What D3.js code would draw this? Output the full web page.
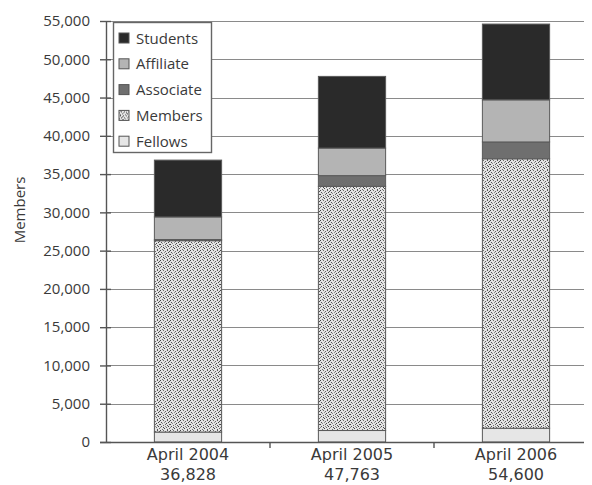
<!DOCTYPE html>
<html>
<head>
<meta charset="utf-8">
<script src="https://cdn.jsdelivr.net/npm/d3@7"></script>
<style>
  html, body { margin: 0; padding: 0; background: #fff; }
  svg { display: block; font-family: "Open Sans", "Noto Sans", sans-serif; }
</style>
</head>
<body>
<svg id="chart" width="592" height="485"></svg>
<script>
// Membership by grade, April of each year
const categories = ["April 2004", "April 2005", "April 2006"];
const totalLabels = ["36,828", "47,763", "54,600"];
const seriesNames = ["Fellows", "Members", "Associate", "Affiliate", "Students"];
const fellows   = [1300, 1500, 1800];
const members   = [25000, 31900, 35200];
const associate = [150, 1400, 2200];
const affiliate = [2950, 3600, 5500];
const students  = [7428, 9363, 9900];
const yTicks = [0, 5000, 10000, 15000, 20000, 25000, 30000, 35000, 40000, 45000, 50000, 55000];
const legendOrder = ["Students", "Affiliate", "Associate", "Members", "Fellows"];

const seriesValues = { Fellows: fellows, Members: members, Associate: associate, Affiliate: affiliate, Students: students };
const rows = categories.map((c, i) => {
  const r = { category: c };
  seriesNames.forEach(s => { r[s] = seriesValues[s][i]; });
  return r;
});

const svg = d3.select("#chart");
const defs = svg.append("defs");

// stipple fill for the Members segment: a 10x10 tile of scattered dots
const dotRows = [
  [0, 3, 7], [5, 9], [1, 4, 8], [2, 6], [0, 5, 9],
  [3, 7], [1, 5, 8], [0, 3, 6], [4, 9], [2, 7]
];
const dotShades = ["#444", "#6a6a6a", "#555", "#8a8a8a"];
const dots = [];
dotRows.forEach((xs, yy) => xs.forEach((xx, k) => dots.push([xx, yy, dotShades[(yy + k) % 4]])));
const pat = defs.append("pattern")
  .attr("id", "stipple").attr("patternUnits", "userSpaceOnUse")
  .attr("width", 10).attr("height", 10);
pat.append("rect").attr("width", 10).attr("height", 10).attr("fill", "#e4e4e4");
pat.selectAll(".d").data(dots).join("rect").attr("class", "d")
  .attr("x", d => d[0]).attr("y", d => d[1]).attr("width", 1).attr("height", 1)
  .attr("fill", d => d[2]);

const fills = {
  Fellows: "#e6e6e6",
  Members: "url(#stipple)",
  Associate: "#6f6f6f",
  Affiliate: "#b4b4b4",
  Students: "#2a2a2a"
};

const axisX = 106, axisY = 442, rightEdge = 584;

const x = d3.scaleBand().domain(categories).range([axisX, axisX + 492])
  .paddingInner(0.59).paddingOuter(0.295);
const y = d3.scaleLinear().domain([0, 55000]).range([axisY, 21]);

// horizontal grid lines
svg.append("g").selectAll("line").data(yTicks.filter(d => d > 0)).join("line")
  .attr("x1", axisX).attr("x2", rightEdge)
  .attr("y1", d => Math.round(y(d)) + 0.5).attr("y2", d => Math.round(y(d)) + 0.5)
  .attr("stroke", "#8a8a8a").attr("stroke-width", 1.2);

// stacked bars
const stack = d3.stack().keys(seriesNames)(rows);
svg.append("g").selectAll("g").data(stack).join("g")
  .attr("fill", d => fills[d.key])
  .selectAll("rect").data(d => d).join("rect")
  .attr("x", d => x(d.data.category))
  .attr("width", x.bandwidth())
  .attr("y", d => y(d[1]))
  .attr("height", d => y(d[0]) - y(d[1]))
  .attr("stroke", "#5a5a5a").attr("stroke-width", 1);

// y axis
const yAxis = d3.axisLeft(y).tickValues(yTicks).tickSize(6).tickPadding(10)
  .tickFormat(d3.format(","));
const gy = svg.append("g").attr("transform", `translate(${axisX},0)`).call(yAxis);
gy.select(".domain").attr("stroke", "#555").attr("stroke-width", 1.4)
  .attr("d", `M0.5,${y(55000)}V${axisY}`);
gy.selectAll(".tick line").attr("x1", -6).attr("x2", 5).attr("stroke", "#555").attr("stroke-width", 1.4);
gy.selectAll(".tick text").attr("font-size", 15).attr("fill", "#3a3a3a")
  .attr("font-family", "'Open Sans', sans-serif");

// x axis
const gx = svg.append("g").attr("transform", `translate(0,${axisY})`);
gx.append("line").attr("x1", axisX - 6).attr("x2", rightEdge)
  .attr("y1", 0.5).attr("y2", 0.5).attr("stroke", "#555").attr("stroke-width", 1.4);
const step = x.step();
gx.selectAll(".sep").data(categories.slice(1)).join("line").attr("class", "sep")
  .attr("x1", d => x(d) - step * x.paddingInner() / 2)
  .attr("x2", d => x(d) - step * x.paddingInner() / 2)
  .attr("y1", 0).attr("y2", 6).attr("stroke", "#555").attr("stroke-width", 1.4);

// two-line category labels: period, then total membership
const xl = gx.selectAll(".xl").data(categories).join("g").attr("class", "xl")
  .attr("transform", d => `translate(${x(d) + x.bandwidth() / 2},0)`)
  .attr("text-anchor", "middle").attr("font-size", 16).attr("fill", "#3a3a3a")
  .attr("font-family", "'DejaVu Sans', sans-serif");
xl.append("text").attr("y", 18).text(d => d);
xl.append("text").attr("y", 37.5).text((d, i) => totalLabels[i]);

// y axis title
svg.append("text").attr("transform", "translate(25,210) rotate(-90)")
  .attr("text-anchor", "middle").attr("font-size", 15).attr("fill", "#3a3a3a")
  .text("Members");

// legend
const lg = svg.append("g").attr("transform", "translate(113,22)");
lg.append("rect").attr("x", 0.5).attr("y", 0.5).attr("width", 98).attr("height", 130)
  .attr("fill", "#fff").attr("stroke", "#666").attr("stroke-width", 1.4);
const li = lg.selectAll(".li").data(legendOrder).join("g").attr("class", "li")
  .attr("transform", (d, i) => `translate(0,${16 + i * 25.8})`);
li.append("rect").attr("x", 6).attr("y", -5).attr("width", 10).attr("height", 10)
  .attr("fill", d => fills[d]).attr("stroke", "#555").attr("stroke-width", 1);
li.append("text").attr("x", 23).attr("y", 5.5).attr("font-size", 15).attr("fill", "#3a3a3a")
  .text(d => d);
</script>
</body>
</html>
